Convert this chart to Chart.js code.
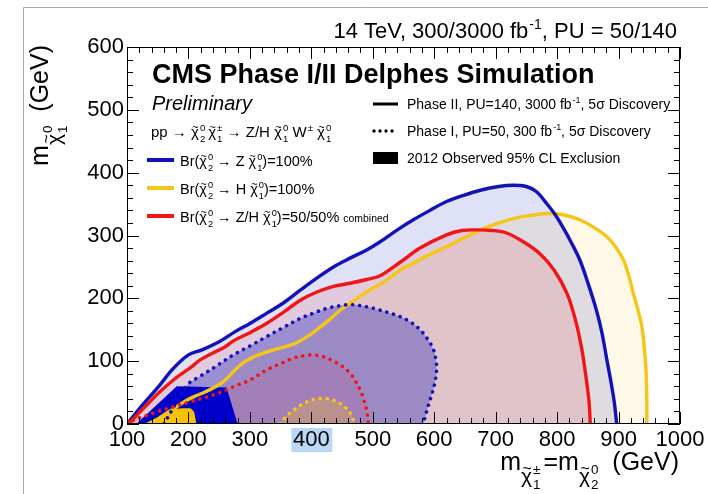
<!DOCTYPE html>
<html>
<head>
<meta charset="utf-8">
<script src="https://cdn.jsdelivr.net/npm/chart.js@4.4.1/dist/chart.umd.min.js"></script>
<style>
  html, body { margin: 0; padding: 0; background: #fff; }
  canvas { display: block; }
</style>
</head>
<body>
<canvas id="chart" width="708" height="494"></canvas>
<script>
// axes
const xTicks = [100, 200, 300, 400, 500, 600, 700, 800, 900, 1000]
const yTicks = [0, 100, 200, 300, 400, 500, 600]

// Phase II (solid) 5 sigma contours, [m chargino, m LSP]
const phase2Z = [[100,0],[125,30],[151,59],[175,88],[200,110],[222,118],[250,131],[276,147],[300,160],[327,176],[355,193],[382,213],[410,233],[436,250],[463,264],[490,277],[512,290],[540,309],[566,325],[593,340],[620,354],[648,364],[675,372],[705,378],[729,380],[750,378],[766,370],[783,351],[797,333],[810,312],[823,289],[837,261],[850,225],[864,181],[873,145],[881,102],[888,65],[893,35],[897,0]]
const phase2H = [[140,0],[170,20],[194,36],[210,44],[227,51],[249,62],[262,72],[276,86],[290,98],[314,110],[346,120],[373,128],[395,140],[409,150],[428,165],[447,181],[479,203],[500,216],[523,229],[544,245],[566,256],[593,270],[620,282],[648,296],[675,309],[702,319],[729,327],[756,332],[783,335],[810,333],[837,325],[860,313],[881,298],[895,282],[908,261],[917,235],[924,208],[932,180],[938,155],[942,120],[945,80],[946,40],[946,0]]
const phase2ZH = [[100,0],[108,6],[130,28],[151,49],[178,72],[205,91],[219,102],[240,113],[260,123],[273,132],[303,147],[327,160],[355,178],[382,197],[409,210],[436,219],[463,224],[490,230],[512,236],[544,257],[577,280],[620,301],[645,308],[669,309],[695,308],[718,304],[745,290],[772,271],[795,245],[816,208],[830,165],[840,120],[847,75],[852,35],[854,0]]

// Phase I (dotted) 5 sigma contours
const phase1Z = [[160,0],[185,42],[200,64],[219,76],[245,92],[273,110],[300,124],[327,139],[355,154],[382,168],[405,177],[425,184],[445,188],[463,190],[482,188],[501,184],[523,178],[544,171],[562,162],[577,150],[590,134],[599,118],[603,100],[604,88],[602,70],[597,50],[590,28],[582,0]]
const phase1ZH = [[100,0],[113,7],[130,13],[151,20],[178,28],[205,36],[230,43],[254,51],[275,60],[300,70],[327,86],[352,97],[371,105],[390,109],[403,110],[420,107],[436,100],[450,92],[463,81],[472,68],[479,55],[485,40],[490,22],[492,10],[493,0]]
const phase1H = [[349,0],[355,8],[371,22],[392,35],[417,41],[441,36],[460,22],[467,10],[471,0]]

// 2012 observed exclusions
const excl2012Z = [[115,0],[181,60],[262,58],[280,0]]
const excl2012H = [[128,0],[150,11],[170,23],[203,25],[209,19],[213,0]]

const BLUE = '#1212b8'
const RED = '#f01616'
const YELLOW = '#f5c518'
const fam = '"Liberation Sans", Arial, Helvetica, sans-serif'

const pts = arr => arr.map(([x, y]) => ({x: x, y: y}))

function fillSet(arr, color, tension) {
    return {
        data: pts(arr), showLine: true, fill: 'shape',
        backgroundColor: color, borderColor: 'transparent', borderWidth: 0,
        pointRadius: 0, tension: tension
    }
}

function lineSet(arr, color, dotted, tension) {
    return {
        data: pts(arr), showLine: true, fill: false,
        borderColor: color, borderWidth: dotted ? 3.6 : 3.4,
        borderDash: dotted ? [0.01, 7] : [],
        borderCapStyle: dotted ? 'round' : 'butt',
        borderJoinStyle: 'round',
        pointRadius: 0, tension: tension
    }
}

// bottom to top
const datasets = [
    fillSet(phase2H, 'rgba(245,200,60,0.13)', 0.35),
    fillSet(phase2Z, 'rgba(30,40,200,0.14)', 0.35),
    fillSet(phase2ZH, 'rgba(240,30,45,0.12)', 0.35),
    fillSet(phase1Z, 'rgba(40,40,190,0.37)', 0.35),
    fillSet(phase1ZH, 'rgba(230,30,60,0.10)', 0.35),
    fillSet(phase1H, 'rgba(245,190,40,0.30)', 0.35),
    fillSet(excl2012Z, '#0000cc', 0),
    fillSet(excl2012H, '#f5c300', 0.2),
    lineSet(phase2H, YELLOW, false, 0.35),
    lineSet(phase2Z, BLUE, false, 0.35),
    lineSet(phase2ZH, RED, false, 0.35),
    lineSet(phase1Z, BLUE, true, 0.35),
    lineSet(phase1ZH, RED, true, 0.35),
    lineSet(phase1H, YELLOW, true, 0.35),
]
datasets.forEach((d, i) => { d.order = datasets.length - i })

// text with sub/superscripts, chi with tilde
function rich(ctx, x, y, parts, size, draw = true) {
    let cx = x
    for (const p of parts) {
        const s = size * (p.k || 1)
        const by = y + size * (p.dy || 0)
        ctx.font = (p.f || '') + ' ' + s + 'px ' + fam
        const w = ctx.measureText(p.t).width
        if (draw) ctx.fillText(p.t, cx, by)
        if (p.tilde && draw) {
            ctx.font = s * 0.75 + 'px ' + fam
            const tw = ctx.measureText('~').width
            ctx.fillText('~', cx + w / 2 - tw / 2 + s * 0.03, by - s * 0.42)
        }
        let w2 = 0
        const ks = p.ks || 0.64
        ctx.font = s * ks + 'px ' + fam
        if (p.sup) {
            if (draw) ctx.fillText(p.sup, cx + w + 1, by - s * 0.42)
            w2 = ctx.measureText(p.sup).width + 1
        }
        if (p.sub) {
            if (draw) ctx.fillText(p.sub, cx + w + 1, by + s * 0.32)
            w2 = Math.max(w2, ctx.measureText(p.sub).width + 1)
        }
        cx += w + w2 + (p.gap || 0)
    }
    return cx - x
}

const chi = (sup, sub, extra) => Object.assign({t: 'χ', tilde: true, sup: sup, sub: sub}, extra || {})

const decor = {
    id: 'decor',
    beforeDraw(chart) {
        const ctx = chart.ctx
        const xs = chart.scales.x
        // highlighted "400" label
        const p = xs.getPixelForValue(400)
        ctx.save()
        ctx.fillStyle = '#b9d8f6'
        ctx.fillRect(p - 20, 428, 41, 24)
        ctx.restore()
    },
    afterDraw(chart) {
        const ctx = chart.ctx
        const {left, top, right, bottom} = chart.chartArea
        const xs = chart.scales.x
        const ys = chart.scales.y
        ctx.save()

        // page frame
        ctx.strokeStyle = '#a8a8a8'
        ctx.lineWidth = 1
        ctx.beginPath()
        ctx.moveTo(23.5, 494); ctx.lineTo(23.5, 7.5); ctx.lineTo(708, 7.5)
        ctx.stroke()

        // axis frame and ticks
        ctx.strokeStyle = '#000'
        ctx.lineWidth = 1
        ctx.strokeRect(left + 0.5, top + 0.5, right - left - 1, bottom - top - 1)
        ctx.beginPath()
        for (let v = xTicks[0]; v <= xTicks[xTicks.length - 1]; v += 20) {
            const px = Math.round(xs.getPixelForValue(v)) + 0.5
            const len = v % 100 === 0 ? 12 : 6
            ctx.moveTo(px, bottom); ctx.lineTo(px, bottom - len)
            ctx.moveTo(px, top); ctx.lineTo(px, top + len)
        }
        for (let v = yTicks[0]; v <= yTicks[yTicks.length - 1]; v += 20) {
            const py = Math.round(ys.getPixelForValue(v)) + 0.5
            const len = v % 100 === 0 ? 12 : 6
            ctx.moveTo(left, py); ctx.lineTo(left + len, py)
            ctx.moveTo(right, py); ctx.lineTo(right - len, py)
        }
        ctx.stroke()

        ctx.fillStyle = '#000'
        ctx.textBaseline = 'alphabetic'
        ctx.textAlign = 'left'

        // top right energy label
        const lumi = [{t: '14 TeV, 300/3000 fb', sup: '-1'}, {t: ', PU = 50/140'}]
        const wl = rich(ctx, 0, 0, lumi, 22, false)
        rich(ctx, 677 - wl, 38, lumi, 22)

        // title
        ctx.font = 'bold 27px ' + fam
        ctx.fillText('CMS Phase I/II Delphes Simulation', 152, 83)
        ctx.font = 'italic 20px ' + fam
        ctx.fillText('Preliminary', 152, 110)

        // process
        rich(ctx, 151, 137, [
            {t: 'pp → '}, chi('0', '2', {gap: 3}), chi('±', '1'), {t: ' → Z/H '},
            chi('0', '1'), {t: ' W', sup: '±'}, {t: ' '}, chi('0', '1')
        ], 15)

        // left legend
        const legL = [
            [BLUE, [{t: 'Br('}, chi('0', '2'), {t: ' → Z '}, chi('0', '1'), {t: ')=100%'}]],
            [YELLOW, [{t: 'Br('}, chi('0', '2'), {t: ' → H '}, chi('0', '1'), {t: ')=100%'}]],
            [RED, [{t: 'Br('}, chi('0', '2'), {t: ' → Z/H '}, chi('0', '1'), {t: ')=50/50% '}, {t: 'combined', k: 0.72}]],
        ]
        legL.forEach(([c, parts], i) => {
            const y = 160 + i * 28
            ctx.strokeStyle = c
            ctx.lineWidth = 4
            ctx.beginPath(); ctx.moveTo(147, y); ctx.lineTo(174, y); ctx.stroke()
            rich(ctx, 180, y + 6, parts, 14.5)
        })

        // right legend
        ctx.strokeStyle = '#000'
        ctx.lineWidth = 3
        ctx.beginPath(); ctx.moveTo(373, 104); ctx.lineTo(398, 104); ctx.stroke()
        ctx.lineWidth = 3.4
        ctx.lineCap = 'round'
        ctx.setLineDash([0.01, 6])
        ctx.beginPath(); ctx.moveTo(374, 131); ctx.lineTo(398, 131); ctx.stroke()
        ctx.setLineDash([])
        ctx.lineCap = 'butt'
        ctx.fillRect(373, 152, 25, 12)
        rich(ctx, 407, 109, [{t: 'Phase II, PU=140, 3000 fb', sup: '-1'}, {t: ', 5σ Discovery'}], 14)
        rich(ctx, 407, 136, [{t: 'Phase I, PU=50, 300 fb', sup: '-1'}, {t: ', 5σ Discovery'}], 14)
        rich(ctx, 407, 163, [{t: '2012 Observed 95% CL Exclusion'}], 14)

        // x axis title
        const xt = [{t: 'm'}, chi('±', '1', {k: 0.84, dy: 0.5, gap: 3}), {t: '=m'}, chi('0', '2', {k: 0.84, dy: 0.5}), {t: '  (GeV)'}]
        const wx = rich(ctx, 0, 0, xt, 25, false)
        rich(ctx, 679 - wx, 470, xt, 25)

        // y axis title
        const yt = [{t: 'm'}, chi('0', '1', {k: 0.84, dy: 0.5}), {t: '  (GeV)'}]
        const wy = rich(ctx, 0, 0, yt, 25, false)
        ctx.translate(48, 45 + wy)
        ctx.rotate(-Math.PI / 2)
        rich(ctx, 0, 0, yt, 25)

        ctx.restore()
    }
}

new Chart(document.getElementById('chart'), {
    type: 'scatter',
    data: { datasets: datasets },
    options: {
        responsive: false,
        animation: false,
        devicePixelRatio: 1,
        layout: { padding: { top: 47, right: 28, left: 0, bottom: 0 } },
        plugins: { legend: { display: false }, tooltip: { enabled: false } },
        elements: { point: { radius: 0 } },
        scales: {
            x: {
                type: 'linear', min: 100, max: 1000,
                afterBuildTicks: s => { s.ticks = xTicks.map(v => ({value: v})) },
                afterFit: s => { s.height = 70 },
                grid: { display: false, drawTicks: false },
                border: { display: false },
                ticks: { color: '#000', font: { family: fam, size: 22 }, padding: 3, maxRotation: 0, autoSkip: false, callback: v => String(v) }
            },
            y: {
                type: 'linear', min: 0, max: 600,
                afterBuildTicks: s => { s.ticks = yTicks.map(v => ({value: v})) },
                afterFit: s => { s.width = 127 },
                grid: { display: false, drawTicks: false },
                border: { display: false },
                ticks: { color: '#000', font: { family: fam, size: 22 }, padding: 3, callback: v => String(v) }
            }
        }
    },
    plugins: [decor]
})
</script>
</body>
</html>
